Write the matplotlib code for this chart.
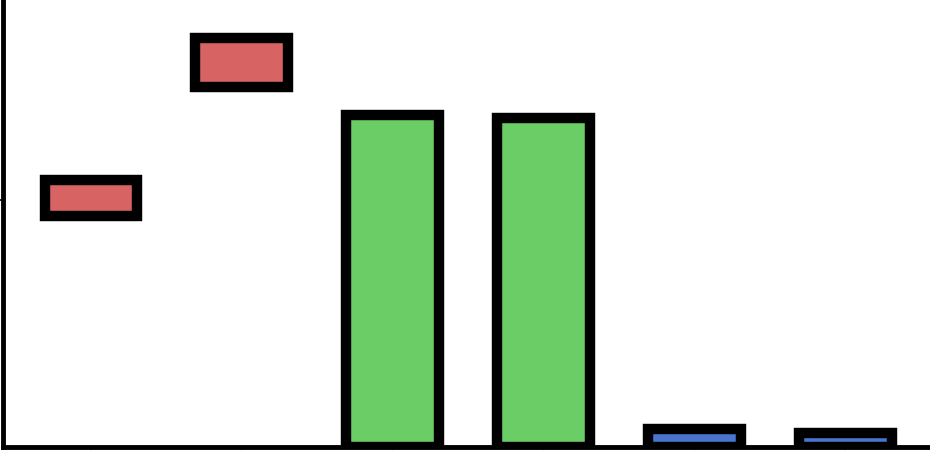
import matplotlib.pyplot as plt
import numpy as np

# floating bars: bottom and top of each bar
positions = [0, 1, 2, 3, 4, 5]
bottoms = [93.5, 145.7, 0, 0, 0, 0]
tops = [108.1, 165.6, 134.4, 133.2, 7.3, 5.7]
colors = ['#d76463', '#d76463', '#6bcd66', '#6bcd66', '#4876cf', '#4876cf']

heights = np.array(tops) - np.array(bottoms)

fig = plt.figure(figsize=(9.3, 4.53), dpi=100)
ax = fig.add_axes([3 / 930, 6 / 453, 1 - 3 / 930, 1 - 6 / 453])

ax.bar(positions, heights, bottom=bottoms, width=0.61, color=colors,
       edgecolor='black', linewidth=7.5, zorder=3)

ax.set_xlim(-0.58, 5.56)
ax.set_ylim(0, 181)
ax.set_xticks(positions)
ax.set_yticks([100])
ax.set_xticklabels([])
ax.set_yticklabels([])
ax.tick_params(direction='out', length=2.5, width=1.2, color='black')

for side in ['top', 'right']:
    ax.spines[side].set_visible(False)
for side in ['left', 'bottom']:
    ax.spines[side].set_linewidth(3.5)
    ax.spines[side].set_color('black')

fig.savefig('out.png', dpi=100)
